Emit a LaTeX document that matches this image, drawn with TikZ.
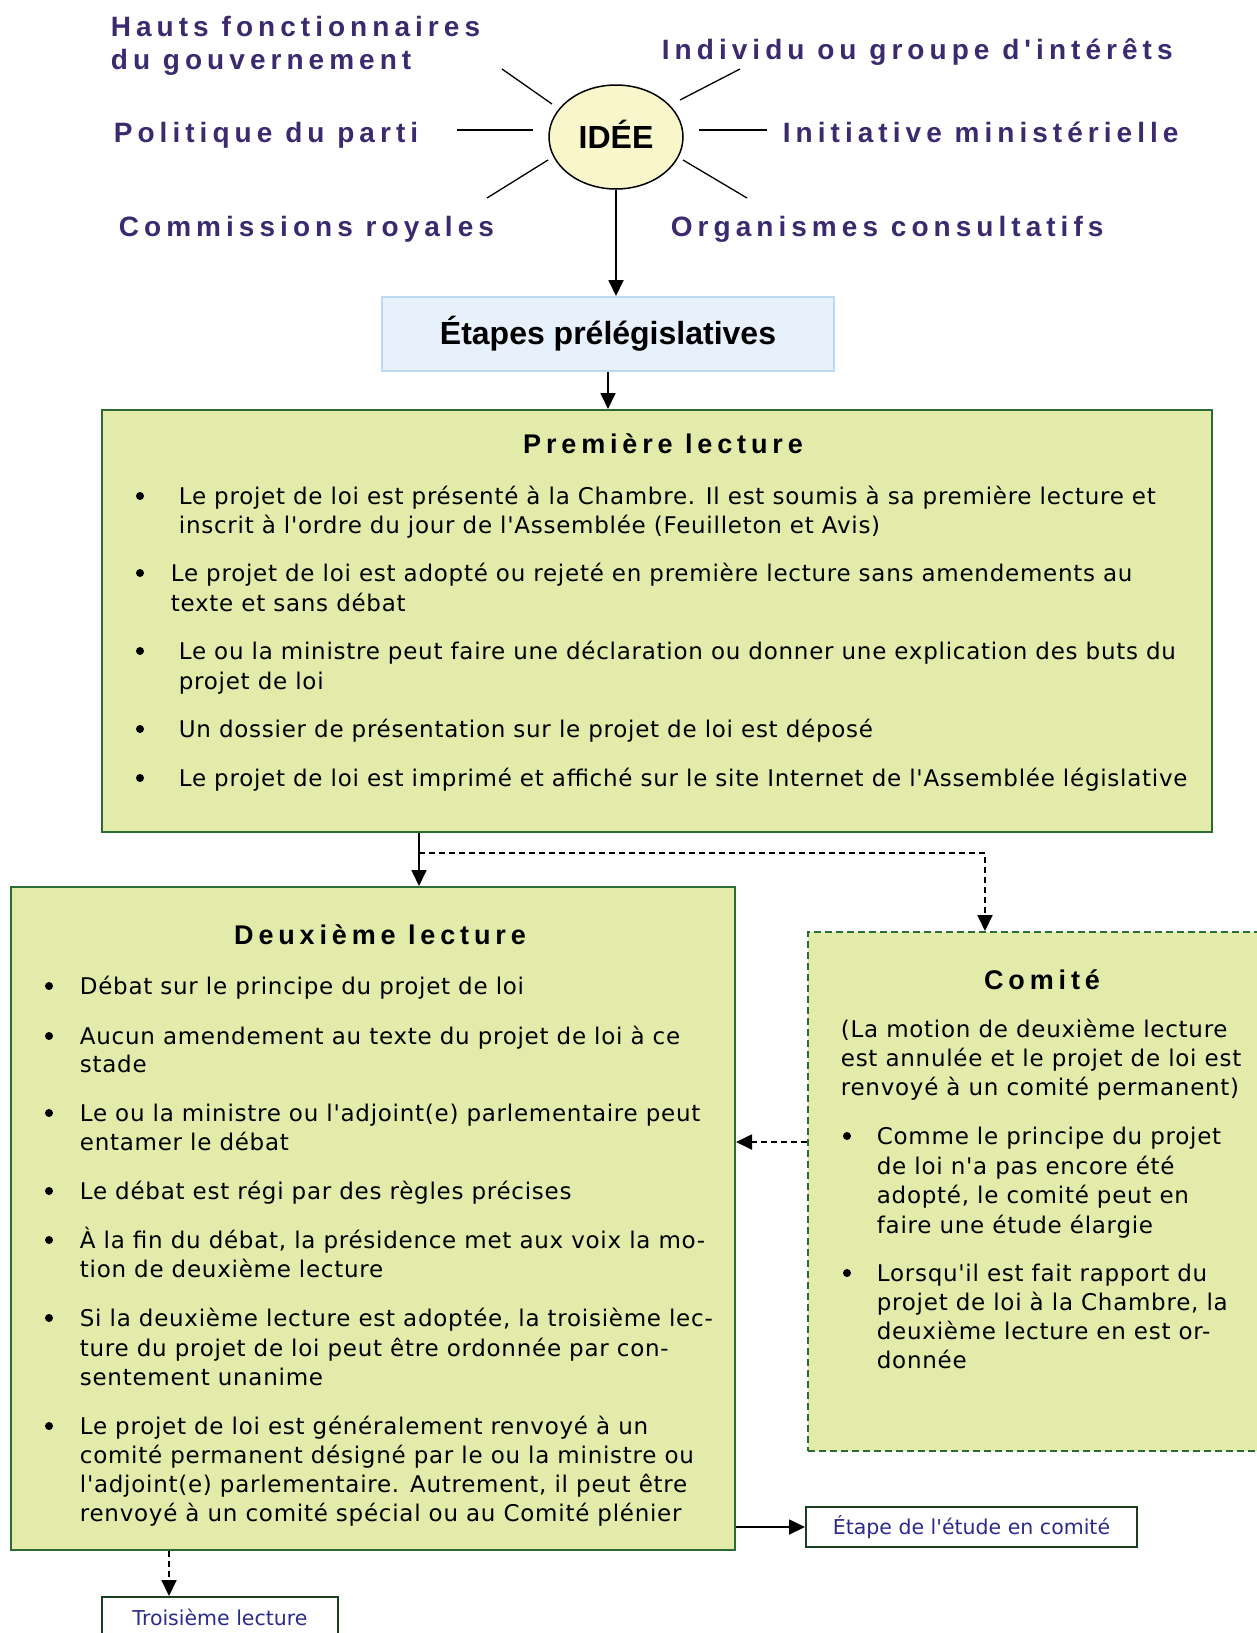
\documentclass[tikz,border=0pt]{standalone}
\usepackage{fontspec}
\setmainfont{DejaVu Sans}[Ligatures=TeXOff]
\newfontfamily\bodyfont{DejaVu Sans}[Ligatures=TeXOff,LetterSpace=3.2]
\newfontfamily\headfont{Liberation Sans}[Ligatures=TeXOff]
\newfontfamily\spacedfont{Liberation Sans}[Ligatures=TeXOff,LetterSpace=18]
\usetikzlibrary{arrows.meta,shapes.geometric,calc,positioning}

\definecolor{lawgreen}{HTML}{E3EBAB}
\definecolor{boxgreen}{HTML}{2E6B34}
\definecolor{prefill}{HTML}{E6F1FB}
\definecolor{preline}{HTML}{BCD9F0}
\definecolor{ideefill}{HTML}{FAF6CC}
\definecolor{sourcepurple}{HTML}{3B2A6E}
\definecolor{stepnavy}{HTML}{2B2B8C}

\tikzset{
  greenbox/.style={rectangle, draw=boxgreen, fill=lawgreen, line width=2pt, inner sep=0pt},
  smallbox/.style={rectangle, draw=boxgreen!60!black, fill=white, line width=2pt, inner sep=0pt,
    minimum height=40pt, font=\fontsize{20.5}{24}\selectfont, text=stepnavy},
  source/.style={inner sep=0pt, text=sourcepurple, font=\fontsize{28}{33}\spacedfont\bfseries},
  boxtitle/.style={inner sep=0pt, font=\fontsize{27}{32}\spacedfont\bfseries},
  body/.style={inner sep=0pt, anchor=base west, font=\fontsize{23}{29}\bodyfont},
  dasharrow/.style={->, dash pattern=on 6pt off 4pt},
}

\begin{document}
\begin{tikzpicture}[x=1pt, y=-1pt, line width=1.8pt, >={Triangle[length=16pt,width=15pt]}]
\useasboundingbox (0,0) rectangle (1257,1633);

% ============================================================
%  IDEE and where it comes from
% ============================================================
\node[ellipse, draw=black, fill=ideefill, line width=1.5pt, minimum width=134pt, minimum height=104pt,
  text height=22pt, text depth=0pt, font=\fontsize{32}{36}\headfont\bfseries] (idee) at (616,137) {IDÉE};

\node[source, anchor=north west, align=left] (hauts) at (110,15.6) {Hauts fonctionnaires\\du gouvernement};
\node[source, anchor=base west] (individu) at (661,59) {Individu ou groupe d'intérêts};
\node[source, anchor=base west] (politique) at (113,142) {Politique du parti};
\node[source, anchor=base west] (initiative) at (782,142) {Initiative ministérielle};
\node[source, anchor=base west] (commissions) at (118,236) {Commissions royales};
\node[source, anchor=base west] (organismes) at (670,236) {Organismes consultatifs};

% rays round the idea (inner end / outer end, from the centre)
\foreach \ax/\ay/\bx/\by in {-64/-33/-114/-68, 64/-37/124/-68, -83/-7/-159/-7,
                             83/-7/151/-7, -68/23/-129/61, 67/23/131/61}
  \draw[line width=1.3pt] ([shift={(\ax,\ay)}]idee.center) -- ([shift={(\bx,\by)}]idee.center);

% ============================================================
%  Boxes
% ============================================================
\node[rectangle, draw=preline, fill=prefill, line width=2pt, minimum width=452pt, minimum height=74pt,
  font=\fontsize{32}{36}\headfont\bfseries] (etapes) at (608,334) {Étapes prélégislatives};

\node[greenbox, minimum width=1110pt, minimum height=422pt] (prem) at (657,621) {};
\node[greenbox, minimum width=724pt, minimum height=663pt] (deux) at (373,1218.5) {};
\node[greenbox, dash pattern=on 7pt off 4pt, minimum width=451pt, minimum height=519pt] (comite) at (1033.5,1191.5) {};

\node[smallbox, minimum width=331pt] (etude) at (971.5,1527) {Étape de l'étude en comité};
\node[smallbox, minimum width=236pt] (troisieme) at (220,1617) {Troisième lecture};

% ---- Premiere lecture ----
\node[boxtitle] (prem-titre) at (663,444) {Première lecture};
\foreach \x/\y/\t [count=\i] in {
  178/504/{Le projet de loi est présenté à la Chambre. Il est soumis à sa première lecture et},
  178/533/{inscrit à l'ordre du jour de l'Assemblée (Feuilleton et Avis)},
  170/581/{Le projet de loi est adopté ou rejeté en première lecture sans amendements au},
  170/611/{texte et sans débat},
  178/659/{Le ou la ministre peut faire une déclaration ou donner une explication des buts du},
  178/689/{projet de loi},
  178/737/{Un dossier de présentation sur le projet de loi est déposé},
  178/786/{Le projet de loi est imprimé et affiché sur le site Internet de l'Assemblée législative}}
  \node[body] (prem-\i) at (\x,\y) {\t};
\foreach \y in {504,581,659,737,786}
  \fill (140,\y-8) circle (4pt);

% ---- Deuxieme lecture ----
\node[boxtitle] (deux-titre) at (380,935) {Deuxième lecture};
\foreach \y/\t [count=\i] in {
  994/{Débat sur le principe du projet de loi},
  1044/{Aucun amendement au texte du projet de loi à ce},
  1072/{stade},
  1121/{Le ou la ministre ou l'adjoint(e) parlementaire peut},
  1150/{entamer le débat},
  1199/{Le débat est régi par des règles précises},
  1248/{À la fin du débat, la présidence met aux voix la mo-},
  1277/{tion de deuxième lecture},
  1326/{Si la deuxième lecture est adoptée, la troisième lec-},
  1356/{ture du projet de loi peut être ordonnée par con-},
  1385/{sentement unanime},
  1434/{Le projet de loi est généralement renvoyé à un},
  1463/{comité permanent désigné par le ou la ministre ou},
  1492/{l'adjoint(e) parlementaire. Autrement, il peut être},
  1521/{renvoyé à un comité spécial ou au Comité plénier}}
  \node[body] (deux-\i) at (79,\y) {\t};
\foreach \y in {994,1044,1121,1199,1248,1326,1434}
  \fill (49,\y-8) circle (4pt);

% ---- Comite ----
\node[boxtitle] (comite-titre) at (1042,980) {Comité};
\foreach \x/\y/\t [count=\i] in {
  840/1037/{(La motion de deuxième lecture},
  840/1066/{est annulée et le projet de loi est},
  840/1095/{renvoyé à un comité permanent)},
  876/1144/{Comme le principe du projet},
  876/1174/{de loi n'a pas encore été},
  876/1203/{adopté, le comité peut en},
  876/1233/{faire une étude élargie},
  876/1281/{Lorsqu'il est fait rapport du},
  876/1310/{projet de loi à la Chambre, la},
  876/1339/{deuxième lecture en est or-},
  876/1368/{donnée}}
  \node[body] (comite-\i) at (\x,\y) {\t};
\foreach \y in {1144,1281}
  \fill (847,\y-8) circle (4pt);

% ============================================================
%  Connectors
% ============================================================
\draw[->] (idee.south) -- (idee.south |- etapes.north);
\draw[->] (etapes.south) -- (etapes.south |- prem.north);
\coordinate (split) at (419,853);
\draw[->] (prem.south -| split) -- (deux.north -| split);
\draw[dasharrow] (split) -| ([xshift=178pt]comite.north west);
\draw[dasharrow] (comite.west |- 0,1142) -- (deux.east |- 0,1142);
\draw[->] (deux.east |- etude.west) -- (etude.west);
\coordinate (tlin) at ([xshift=-51pt]troisieme.north);
\draw[dasharrow] (deux.south -| tlin) -- (tlin);

\end{tikzpicture}
\end{document}
